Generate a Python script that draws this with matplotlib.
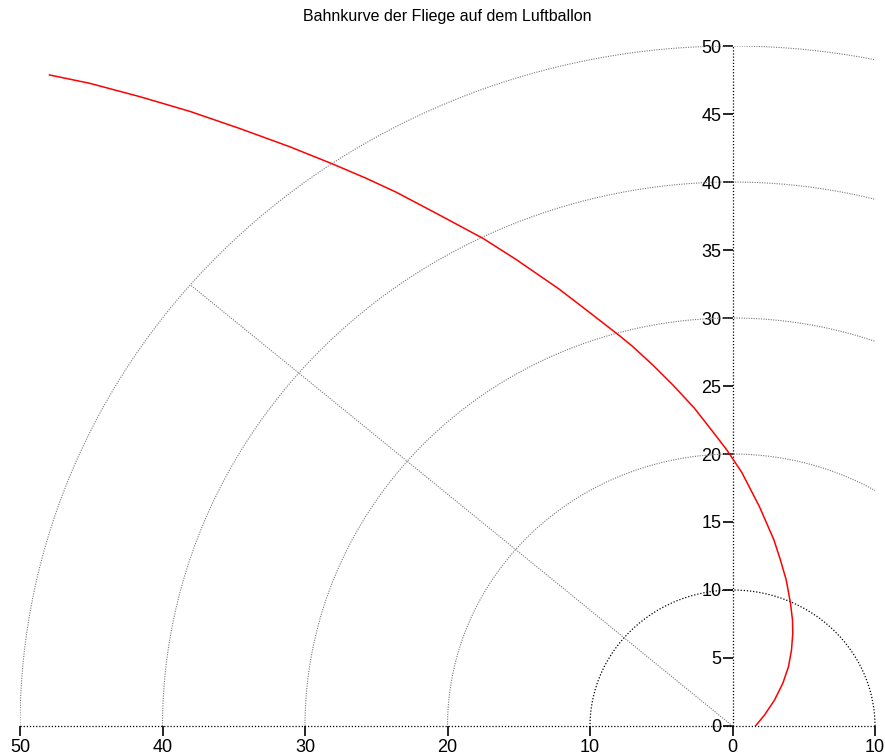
import numpy as np
import matplotlib.pyplot as plt

plt.rcParams['font.family'] = ['Liberation Sans', 'DejaVu Sans']

# path of the fly
fly_x = [1.61, 2.25, 2.95, 3.53, 3.93, 4.14, 4.23, 4.21, 4.07, 3.77, 3.35,
         2.9, 1.89, 0.65, -0.4, -1.5, -2.7, -4.18, -5.59, -6.99, -7.93,
         -10.27, -12.2, -15.18, -17.5, -20.56, -23.6, -25.7, -28.05, -31.09,
         -34.6, -38.1, -41.61, -45.12, -47.93]
fly_y = [0.0, 0.81, 1.91, 3.14, 4.36, 5.59, 6.81, 7.79, 9.02, 10.74, 12.25,
         13.7, 16.13, 18.65, 20.3, 21.8, 23.4, 25.07, 26.54, 27.89, 28.7,
         30.6, 32.15, 34.3, 35.85, 37.57, 39.25, 40.27, 41.32, 42.6,
         43.94, 45.2, 46.28, 47.26, 47.87]

grid_radii = [10, 20, 30, 40, 50]
radial_end = (-38.0, 32.4)

x_ticks = [-50, -40, -30, -20, -10, 0, 10]
x_labels = ['50', '40', '30', '20', '10', '0', '10']
y_ticks = [0, 5, 10, 15, 20, 25, 30, 35, 40, 45, 50]

fig = plt.figure(figsize=(8.85, 7.56), dpi=100)
ax = fig.add_axes([20 / 885, 30 / 756, 855 / 885, 680 / 756])

# polar grid
t = np.linspace(0, np.pi, 400)
for r in grid_radii:
    if r == 10:
        ax.plot(r * np.cos(t), r * np.sin(t), color='black', lw=0.9,
                ls=(0, (1, 1.5)), clip_on=False)
    else:
        ax.plot(r * np.cos(t), r * np.sin(t), color='#777777', lw=0.8,
                ls=(0, (1, 1.2)))
ax.plot([0, radial_end[0]], [0, radial_end[1]], color='#777777', lw=0.8,
        ls=(0, (1, 1.2)))
ax.axhline(0, color='black', lw=0.9, ls=(0, (1, 1.5)), clip_on=False)
ax.axvline(0, color='black', lw=0.9, ls=(0, (1, 1.5)), clip_on=False)

ax.plot(fly_x, fly_y, color='red', lw=1.1)

ax.set_xlim(-50, 10)
ax.set_ylim(0, 50)
for s in ax.spines.values():
    s.set_visible(False)
ax.spines['left'].set_position(('data', 0))
ax.spines['bottom'].set_position(('data', 0))

ax.set_xticks(x_ticks)
ax.set_xticklabels(x_labels)
ax.set_yticks(y_ticks)
ax.tick_params(axis='both', labelsize=13, length=7, width=1.2, pad=2)
ax.tick_params(axis='y', pad=1)

ax.set_title('Bahnkurve der Fliege auf dem Luftballon', fontsize=11.5, pad=18)

plt.savefig('out.png', dpi=100)
